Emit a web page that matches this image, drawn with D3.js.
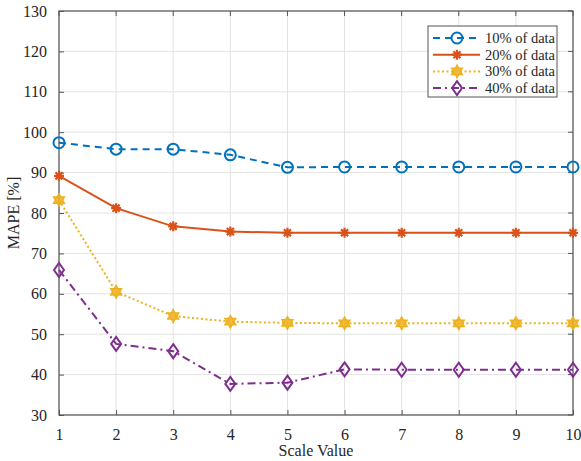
<!DOCTYPE html>
<html>
<head>
<meta charset="utf-8">
<script src="https://cdn.jsdelivr.net/npm/d3@7"></script>
<style>
    body { margin: 0; background: #fff; }
    svg text { font-family: "Liberation Serif", "Times New Roman", serif !important; fill: #262626; }
</style>
</head>
<body>
<svg id="chart" width="581" height="461"></svg>
<script>
const scaleValues = [1, 2, 3, 4, 5, 6, 7, 8, 9, 10];
const seriesNames = ["10% of data", "20% of data", "30% of data", "40% of data"];
const mape10 = [97.4, 95.8, 95.8, 94.4, 91.3, 91.4, 91.4, 91.4, 91.4, 91.4];
const mape20 = [89.2, 81.2, 76.7, 75.4, 75.1, 75.1, 75.1, 75.1, 75.1, 75.1];
const mape30 = [83.2, 60.5, 54.5, 53.1, 52.8, 52.7, 52.7, 52.7, 52.7, 52.7];
const mape40 = [65.9, 47.6, 45.8, 37.7, 38.0, 41.3, 41.2, 41.2, 41.2, 41.2];
const yTicks = [30, 40, 50, 60, 70, 80, 90, 100, 110, 120, 130];

const margin = {left: 59, top: 11, right: 8, bottom: 46};
const width = 581 - margin.left - margin.right;
const height = 461 - margin.top - margin.bottom;

const svg = d3.select("#chart");
const g = svg.append("g").attr("transform", `translate(${margin.left},${margin.top})`);

const x = d3.scaleLinear().domain([1, 10]).range([0, width]);
const y = d3.scaleLinear().domain([30, 130]).range([height, 0]);

// grid
g.append("g").selectAll("line").data(scaleValues).join("line")
    .attr("x1", d => x(d)).attr("x2", d => x(d)).attr("y1", 0).attr("y2", height)
    .attr("stroke", "#e3e3e3").attr("stroke-width", 1);
g.append("g").selectAll("line").data(yTicks).join("line")
    .attr("x1", 0).attr("x2", width).attr("y1", d => y(d)).attr("y2", d => y(d))
    .attr("stroke", "#e3e3e3").attr("stroke-width", 1);

// axes (ticks inside, like matlab)
const xAxis = g.append("g").attr("transform", `translate(0,${height})`)
    .call(d3.axisBottom(x).tickValues(scaleValues).tickSizeInner(-5).tickSizeOuter(0).tickPadding(14));
const yAxis = g.append("g")
    .call(d3.axisLeft(y).tickValues(yTicks).tickSizeInner(-5).tickSizeOuter(0).tickPadding(12));
[xAxis, yAxis].forEach(a => {
    a.attr("font-size", 16);
    a.select(".domain").remove();
    a.selectAll("line").attr("stroke", "#555");
    a.selectAll("text").attr("fill", "#262626");
});
// top and right ticks
g.append("g").selectAll("line").data(scaleValues).join("line")
    .attr("x1", d => x(d)).attr("x2", d => x(d)).attr("y1", 0).attr("y2", 5).attr("stroke", "#555");
g.append("g").selectAll("line").data(yTicks).join("line")
    .attr("x1", width - 5).attr("x2", width).attr("y1", d => y(d)).attr("y2", d => y(d)).attr("stroke", "#555");

g.append("rect").attr("width", width).attr("height", height)
    .attr("fill", "none").attr("stroke", "#555").attr("stroke-width", 1.2);

// labels
svg.append("text").attr("x", margin.left + width / 2).attr("y", 456)
    .attr("text-anchor", "middle").style("font-size", "16px").text("Scale Value");
svg.append("text").attr("transform", `translate(19,${margin.top + height / 2}) rotate(-90)`)
    .attr("text-anchor", "middle").style("font-size", "16px").text("MAPE [%]");

const series = [
    {name: seriesNames[0], values: mape10, color: "#0072BD", dash: "7,5", marker: "circle"},
    {name: seriesNames[1], values: mape20, color: "#D95319", dash: null, marker: "asterisk"},
    {name: seriesNames[2], values: mape30, color: "#EDB120", dash: "2,2.5", marker: "hexagram"},
    {name: seriesNames[3], values: mape40, color: "#7E2F8E", dash: "8,4,2,4", marker: "diamond"}
];

const line = d3.line().x((d, i) => x(scaleValues[i])).y(d => y(d));

function trianglePath(r, flip) {
    const pts = [0, 120, 240].map(a => {
        const t = (a + (flip ? 180 : 0) - 90) * Math.PI / 180;
        return [r * Math.cos(t), r * Math.sin(t)];
    });
    return "M" + pts.join("L") + "Z";
}

function drawMarker(sel, type, color) {
    if (type === "circle") {
        sel.append("circle").attr("r", 5.5).attr("fill", "none").attr("stroke", color).attr("stroke-width", 2);
    } else if (type === "diamond") {
        sel.append("path").attr("d", "M0,-7 L5,0 L0,7 L-5,0 Z")
            .attr("fill", "none").attr("stroke", color).attr("stroke-width", 2);
    } else if (type === "hexagram") {
        sel.append("path").attr("d", trianglePath(6.5, false) + trianglePath(6.5, true))
            .attr("fill", color).attr("fill-opacity", 0.85).attr("stroke", color).attr("stroke-width", 1.2);
    } else if (type === "asterisk") {
        const r = 5;
        const k = r * Math.SQRT1_2;
        sel.append("path").attr("d", `M${-r},0H${r}M0,${-r}V${r}M${-k},${-k}L${k},${k}M${-k},${k}L${k},${-k}`)
            .attr("fill", "none").attr("stroke", color).attr("stroke-width", 2.2);
    }
}

series.forEach(s => {
    g.append("path").datum(s.values).attr("d", line)
        .attr("fill", "none").attr("stroke", s.color).attr("stroke-width", 2)
        .attr("stroke-dasharray", s.dash);
    g.append("g").selectAll("g").data(s.values).join("g")
        .attr("transform", (d, i) => `translate(${x(scaleValues[i])},${y(d)})`)
        .each(function () { drawMarker(d3.select(this), s.marker, s.color); });
});

// legend
const legend = svg.append("g").attr("transform", "translate(428,26)");
legend.append("rect").attr("width", 129).attr("height", 71)
    .attr("fill", "#fff").attr("stroke", "#555").attr("stroke-width", 1);
series.forEach((s, i) => {
    const row = legend.append("g").attr("transform", `translate(0,${12 + i * 16.7})`);
    row.append("line").attr("x1", 5).attr("x2", 52).attr("y1", 0).attr("y2", 0)
        .attr("stroke", s.color).attr("stroke-width", 2).attr("stroke-dasharray", s.dash);
    const m = row.append("g").attr("transform", "translate(29,0)");
    drawMarker(m, s.marker, s.color);
    row.append("text").attr("x", 57).attr("y", 5).style("font-size", "14.5px").text(s.name);
});
</script>
</body>
</html>
